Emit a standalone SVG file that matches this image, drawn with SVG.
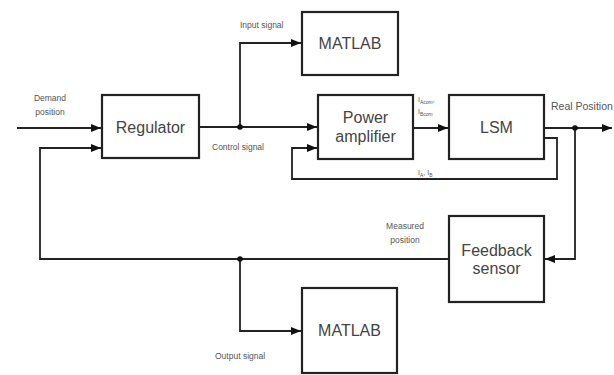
<svg xmlns="http://www.w3.org/2000/svg" width="614" height="375" viewBox="0 0 614 375">
<style>
.box{fill:#fff;stroke:#222;stroke-width:2.2}
.lbl{font-family:"Liberation Sans",Arial,sans-serif;fill:#444;font-size:16px;text-anchor:middle}
.sm{font-family:"Liberation Sans",Arial,sans-serif;fill:#555;font-size:8.5px}
.tiny{font-family:"Liberation Sans",Arial,sans-serif;fill:#555;font-size:7px}
.ln{fill:none;stroke:#222;stroke-width:1.8}
</style>
<defs>
<marker id="ah" markerWidth="10" markerHeight="8" refX="10" refY="4" orient="auto" markerUnits="userSpaceOnUse">
<path d="M0,0 L10,4 L0,8 Z" fill="#111"/>
</marker>
</defs>
<rect width="614" height="375" fill="#fff"/>
<g id="connectors">
<path class="ln" d="M17,128 H101" marker-end="url(#ah)"/>
<path class="ln" d="M199,127 H317" marker-end="url(#ah)"/>
<path class="ln" d="M240,127 V43 H301" marker-end="url(#ah)"/>
<path class="ln" d="M413,128 H448" marker-end="url(#ah)"/>
<path class="ln" d="M544,128 H612" marker-end="url(#ah)"/>
<path class="ln" d="M544,138 H557 V179 H292 V148 H317" marker-end="url(#ah)"/>
<path class="ln" d="M575,128 V259 H545" marker-end="url(#ah)"/>
<path class="ln" d="M449,259 H40 V148 H101" marker-end="url(#ah)"/>
<path class="ln" d="M240,259 V331 H301" marker-end="url(#ah)"/>
<circle cx="240" cy="127" r="2.8" fill="#111"/>
<circle cx="575" cy="128" r="2.8" fill="#111"/>
<circle cx="240" cy="259" r="2.8" fill="#111"/>
</g>
<g id="regulator">
<rect class="box" x="102" y="95" width="97" height="63"/>
<text class="lbl" x="150.5" y="133">Regulator</text>
</g>
<g id="matlab-top">
<rect class="box" x="302" y="12" width="96" height="63"/>
<text class="lbl" x="350" y="49">MATLAB</text>
</g>
<g id="power-amplifier">
<rect class="box" x="318" y="95" width="95" height="64"/>
<text class="lbl" x="365.5" y="123">Power</text>
<text class="lbl" x="365.5" y="142">amplifier</text>
</g>
<g id="lsm">
<rect class="box" x="449" y="95" width="95" height="64"/>
<text class="lbl" x="496.5" y="133">LSM</text>
</g>
<g id="feedback-sensor">
<rect class="box" x="449" y="216" width="95" height="86"/>
<text class="lbl" x="496.5" y="256">Feedback</text>
<text class="lbl" x="496.5" y="274">sensor</text>
</g>
<g id="matlab-bottom">
<rect class="box" x="302" y="288" width="95" height="85"/>
<text class="lbl" x="349.5" y="336">MATLAB</text>
</g>
<g id="labels">
<text class="sm" x="50" y="101" text-anchor="middle">Demand</text>
<text class="sm" x="50" y="115" text-anchor="middle">position</text>
<text class="sm" x="240" y="28">Input signal</text>
<text class="sm" x="212" y="150">Control signal</text>
<text class="tiny" x="418" y="102">I<tspan font-size="5" dy="1.5">Acom</tspan><tspan dy="-1.5">,</tspan></text>
<text class="tiny" x="418" y="114">I<tspan font-size="5" dy="1.5">Bcom</tspan></text>
<text class="tiny" x="418" y="175">I<tspan font-size="5" dy="1.5">A</tspan><tspan dy="-1.5">, I</tspan><tspan font-size="5" dy="1.5">B</tspan></text>
<text class="sm" x="551" y="110" style="font-size:10.5px">Real Position</text>
<text class="sm" x="405" y="229" text-anchor="middle">Measured</text>
<text class="sm" x="405" y="243" text-anchor="middle">position</text>
<text class="sm" x="215" y="359">Output signal</text>
</g>
</svg>
